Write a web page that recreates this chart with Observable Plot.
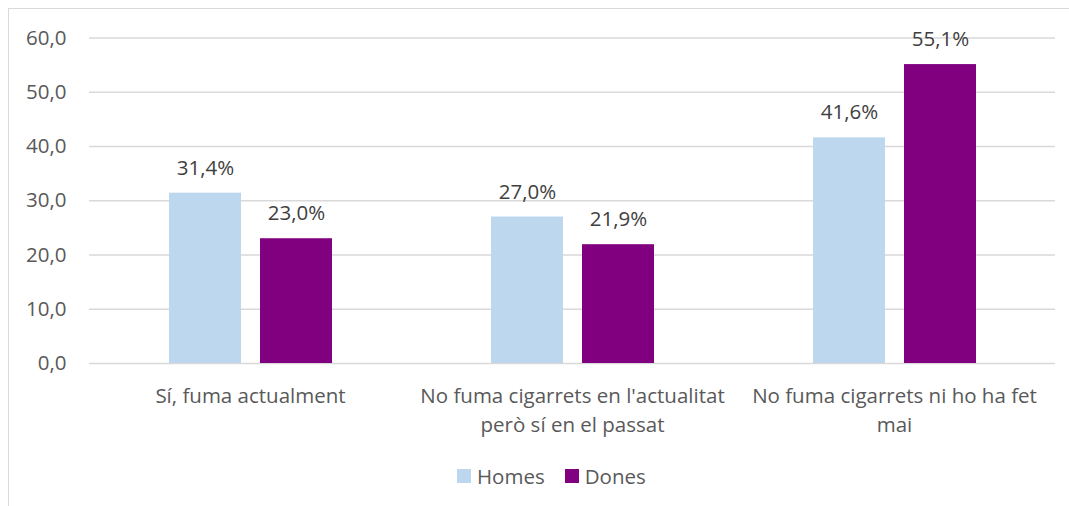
<!DOCTYPE html>
<html>
<head>
<meta charset="utf-8">
<script src="https://cdn.jsdelivr.net/npm/d3@7"></script>
<script src="https://cdn.jsdelivr.net/npm/@observablehq/plot@0.6"></script>
<style>
  html, body { margin: 0; padding: 0; background: #fff; overflow: hidden; width: 1069px; height: 506px; }
  #frame { position: absolute; left: 8px; top: 8px; width: 1100px; height: 560px; border: 1px solid #d9d9d9; box-sizing: border-box; }
  #chart { position: absolute; left: 0; top: 0; }
  #legend { position: absolute; left: 457px; top: 462px; height: 28px; font-family: "Open Sans", sans-serif; font-size: 20.5px; color: #595959; display: flex; align-items: center; white-space: nowrap; }
  #legend .sw { width: 14px; height: 14px; display: inline-block; margin-right: 6px; }
  #legend .item { display: flex; align-items: center; margin-right: 20px; }
</style>
</head>
<body>
<div id="frame"></div>
<div id="chart"></div>
<div id="legend"></div>
<script>
const categories = ["Sí, fuma actualment", "No fuma cigarrets en l'actualitat però sí en el passat", "No fuma cigarrets ni ho ha fet mai"];
const categoryLabels = ["Sí, fuma actualment", "No fuma cigarrets en l'actualitat\nperò sí en el passat", "No fuma cigarrets ni ho ha fet\nmai"];
const series = ["Homes", "Dones"];
const homes = [31.4, 27.0, 41.6];
const dones = [23.0, 21.9, 55.1];
const colors = ["#BDD7EE", "#800080"];
const yTicks = [0, 10, 20, 30, 40, 50, 60];

const data = [];
categories.forEach((c, i) => {
  data.push({category: c, sex: "Homes", value: homes[i]});
  data.push({category: c, sex: "Dones", value: dones[i]});
});
const comma1 = v => v.toFixed(1).replace(".", ",");
const labelOf = c => categoryLabels[categories.indexOf(c)];

const plot = Plot.plot({
  width: 1069,
  height: 450,
  marginLeft: 89,
  marginRight: 14,
  marginTop: 37.5,
  marginBottom: 87,
  style: {fontFamily: "'Open Sans', sans-serif", fontSize: "20.5px", color: "#595959", background: "transparent"},
  fx: {domain: categories, padding: 0, axis: null, label: null},
  x: {domain: series, paddingInner: 0.213, paddingOuter: 0.866, axis: null},
  y: {domain: [0, 60], axis: null},
  color: {domain: series, range: colors},
  marks: [
    Plot.ruleY(yTicks, {stroke: "#d9d9d9", strokeWidth: 1.3}),
    Plot.axisY({ticks: yTicks, tickFormat: comma1, tickSize: 0, tickPadding: 23, label: null, fill: "#595959", fontSize: 20.5}),
    Plot.barY(data, {fx: "category", x: "sex", y: "value", fill: "sex"}),
    Plot.text(data, {fx: "category", x: "sex", y: "value", text: d => comma1(d.value) + "%", dy: -25, fill: "#404040", fontSize: 20.5}),
    Plot.axisFx({anchor: "bottom", tickFormat: labelOf, tickSize: 0, tickPadding: 20, label: null, lineHeight: 1.37, fill: "#595959", fontSize: 20.5})
  ]
});
document.getElementById("chart").appendChild(plot);

const legend = document.getElementById("legend");
series.forEach((s, i) => {
  const item = document.createElement("span");
  item.className = "item";
  const sw = document.createElement("span");
  sw.className = "sw";
  sw.style.background = colors[i];
  item.appendChild(sw);
  item.appendChild(document.createTextNode(s));
  legend.appendChild(item);
});
</script>
</body>
</html>
